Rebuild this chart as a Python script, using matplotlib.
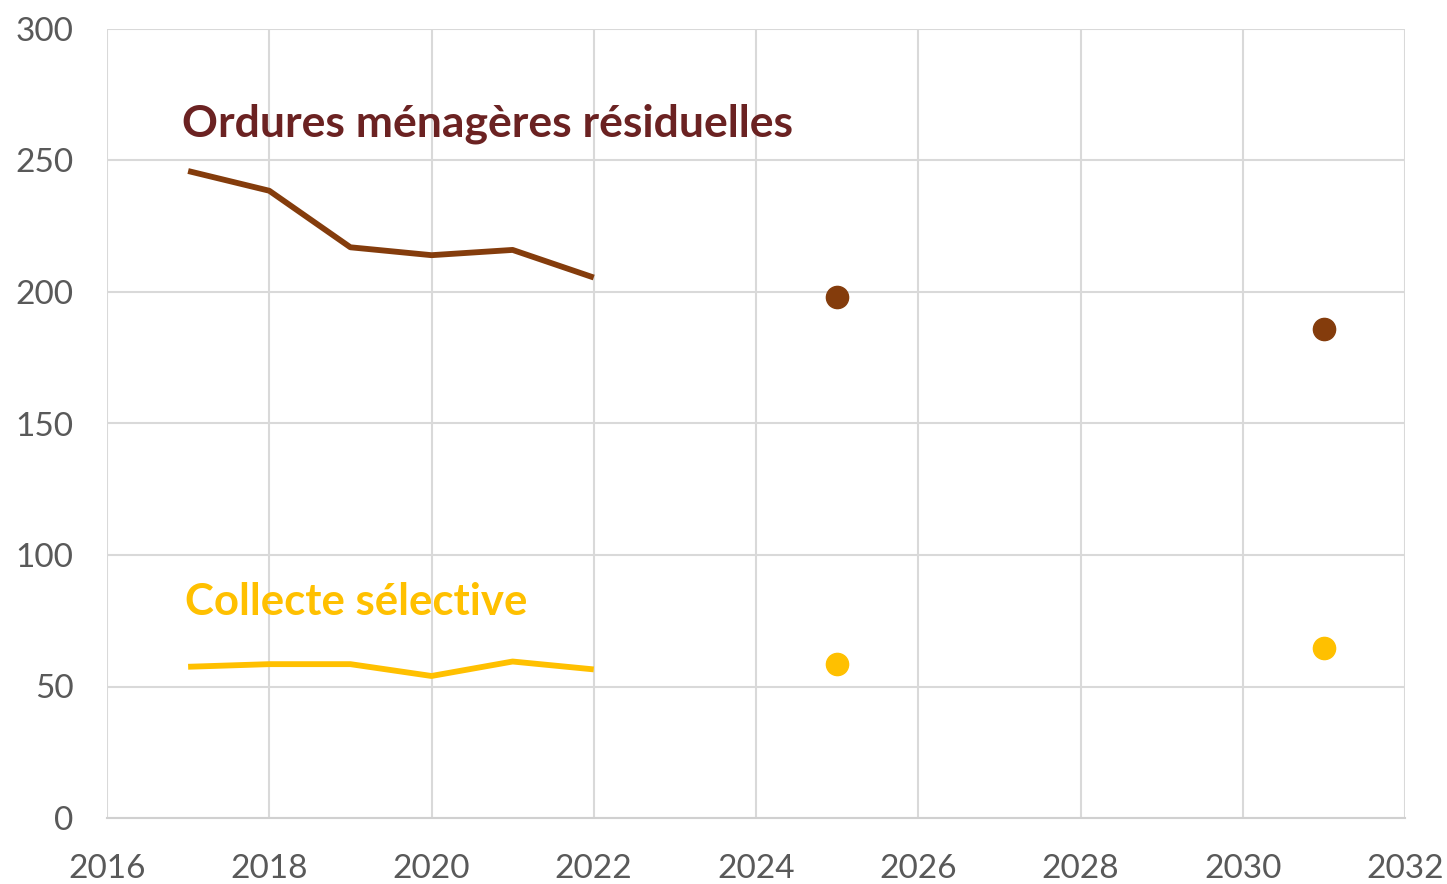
import matplotlib.pyplot as plt
import numpy as np

plt.rcParams['font.family'] = ['Lato', 'DejaVu Sans']

# observed years and values
years = [2017, 2018, 2019, 2020, 2021, 2022]
omr = [246, 238.5, 217, 214, 216, 205.5]
collecte = [57.5, 58.5, 58.5, 54, 59.5, 56.5]

# targets
target_years = [2025, 2031]
omr_target = [198, 186]
collecte_target = [58.5, 64.5]

brown = '#843C0C'
maroon = '#6B2222'
yellow = '#FFC000'
grey = '#595959'

fig = plt.figure(figsize=(14.47, 8.84), dpi=100)
ax = fig.add_axes([107/1447, 1-818/884, 1298/1447, 789/884])

ax.plot(years, omr, color=brown, linewidth=4.2, solid_capstyle='butt', zorder=3)
ax.plot(years, collecte, color=yellow, linewidth=4.2, solid_capstyle='butt', zorder=3)
ax.plot(target_years, omr_target, 'o', color=brown, markersize=16, zorder=3)
ax.plot(target_years, collecte_target, 'o', color=yellow, markersize=16, zorder=3)

ax.text(2016.93, 259, 'Ordures ménagères résiduelles', color=maroon,
        fontsize=32, fontweight='bold', va='baseline')
ax.text(2016.96, 77, 'Collecte sélective', color=yellow,
        fontsize=31.5, fontweight='bold', va='baseline')

ax.set_xlim(2016, 2032)
ax.set_ylim(0, 300)
ax.set_xticks(np.arange(2016, 2033, 2))
ax.set_yticks(np.arange(0, 301, 50))
ax.grid(True, color='#D9D9D9', linewidth=1.5)
ax.set_axisbelow(True)
for s in ['top', 'right', 'left']:
    ax.spines[s].set_visible(False)
ax.spines['bottom'].set_color('#D0D0D0')
ax.spines['bottom'].set_linewidth(1.5)
ax.tick_params(axis='both', length=0, labelsize=24, labelcolor=grey)
ax.tick_params(axis='x', pad=26)
ax.tick_params(axis='y', pad=24)

plt.savefig('out.png', dpi=100)
